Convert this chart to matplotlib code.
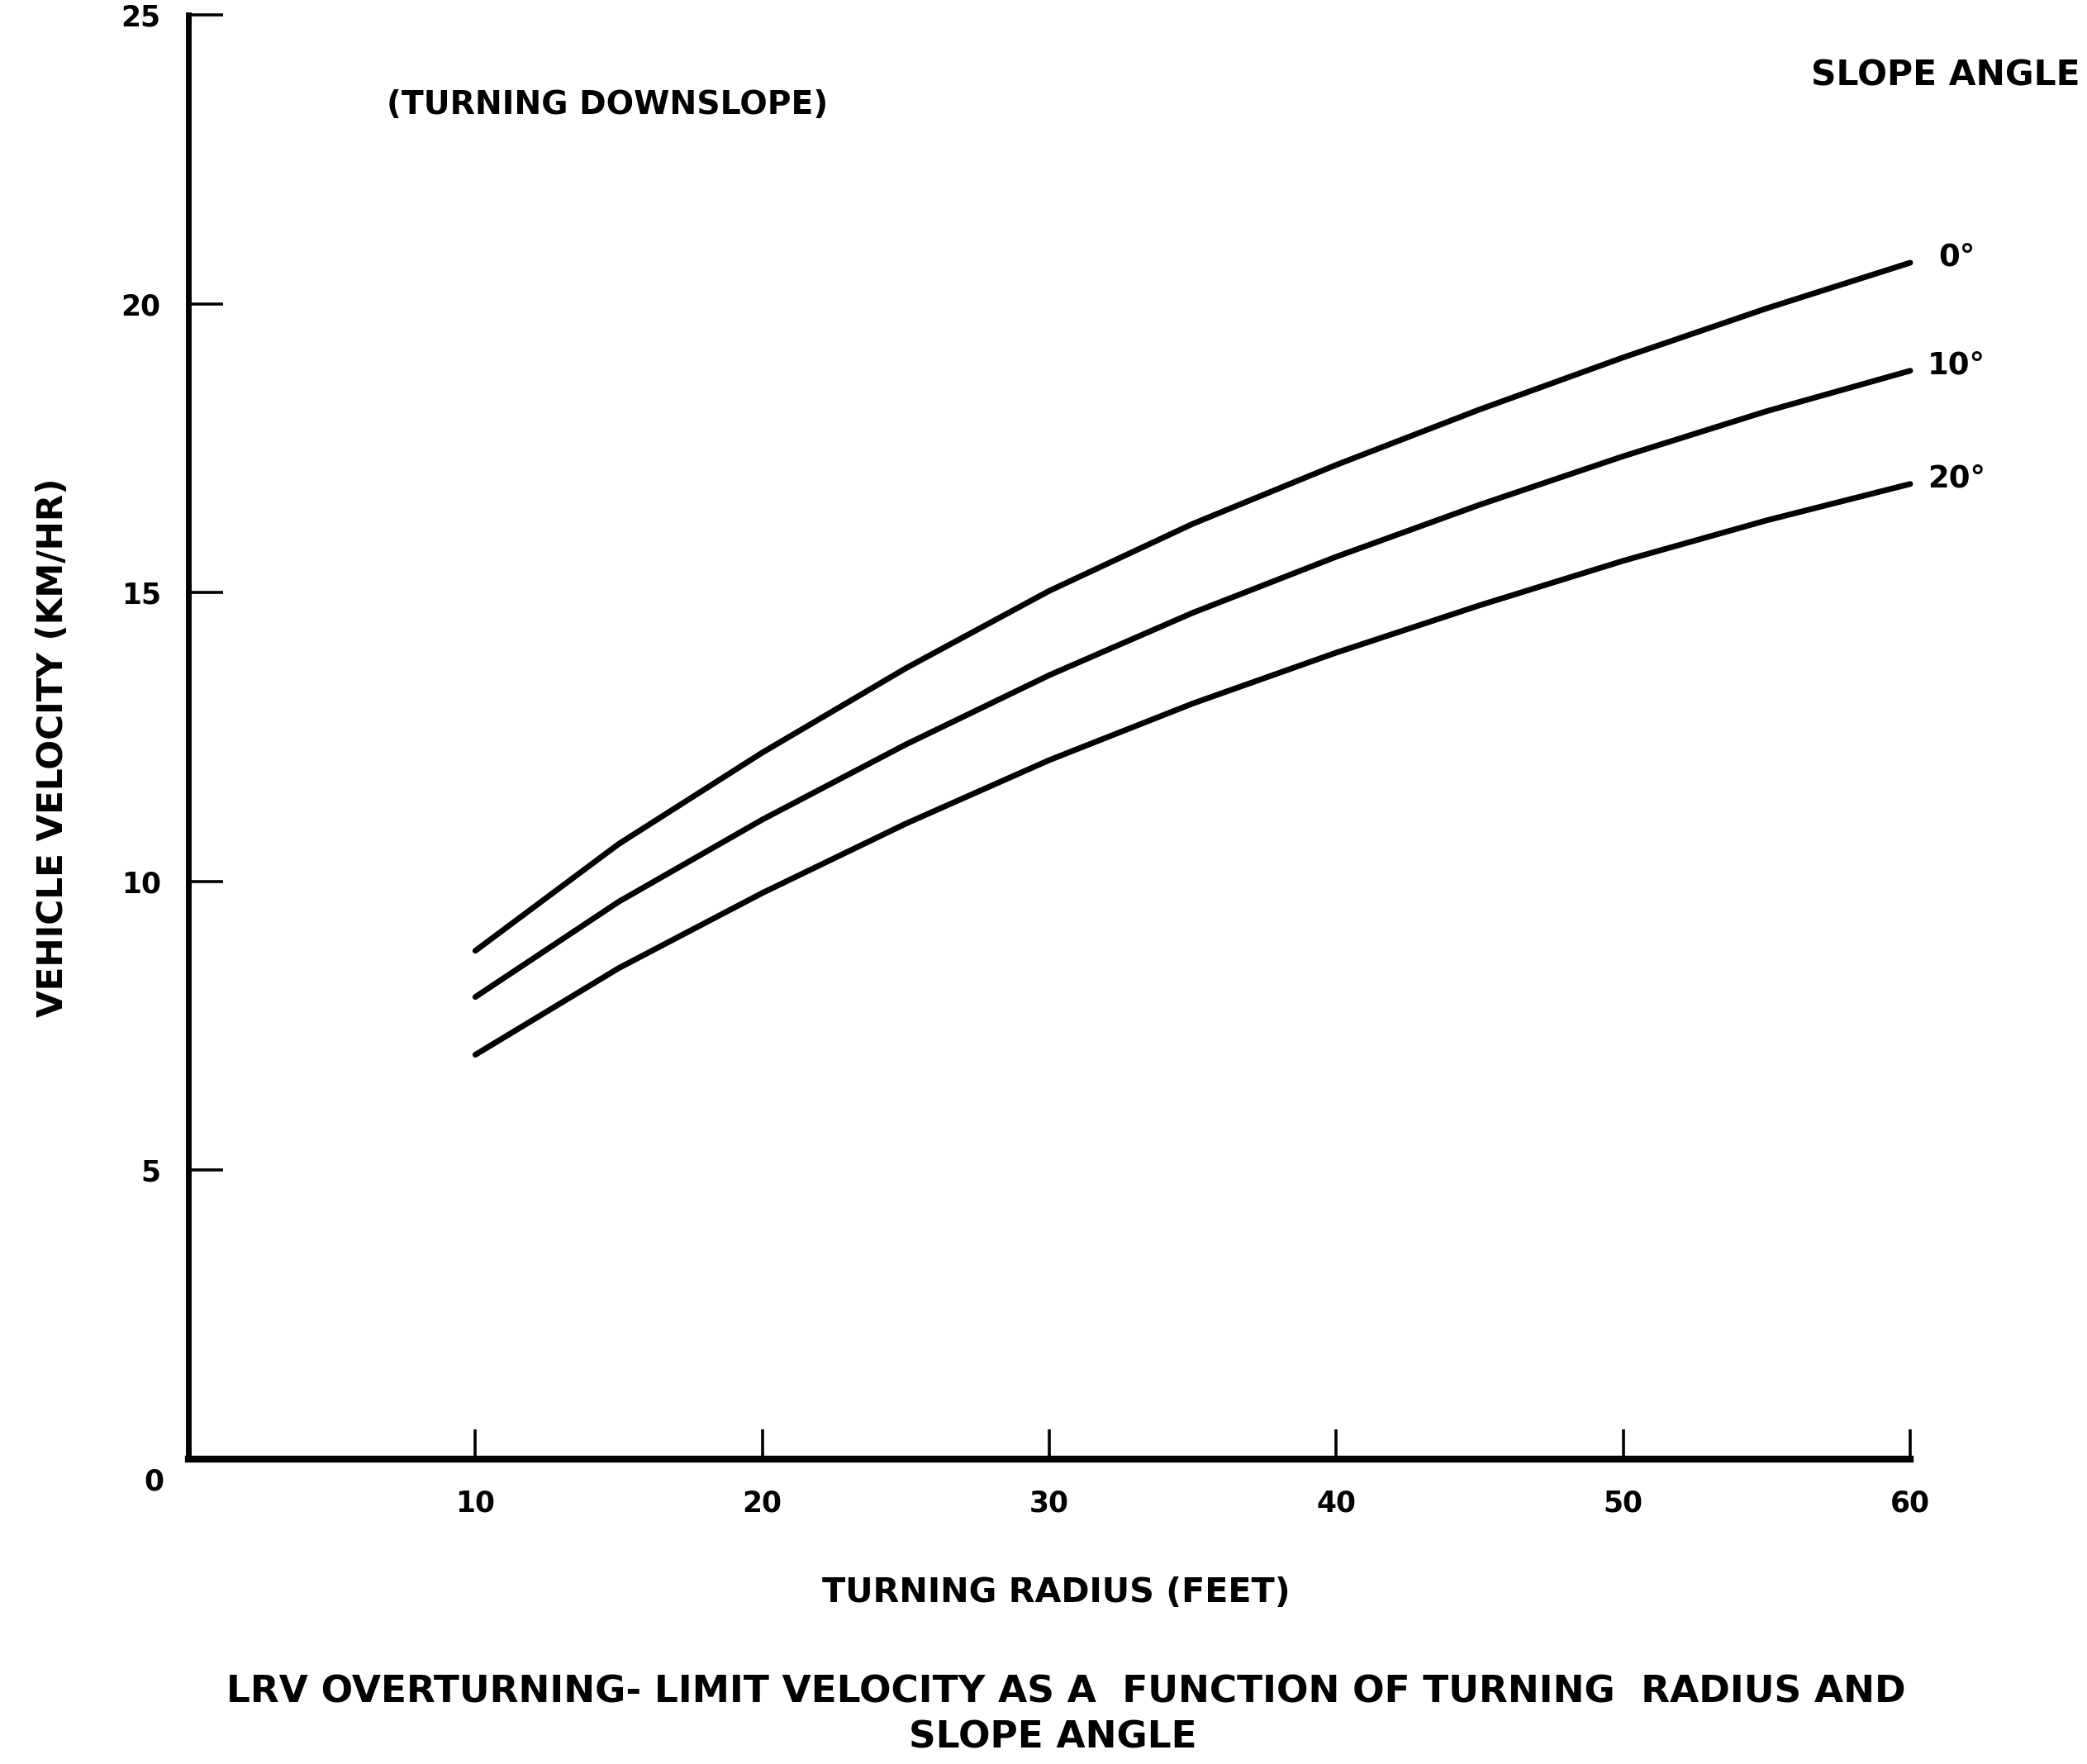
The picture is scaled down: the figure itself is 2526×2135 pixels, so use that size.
import matplotlib
matplotlib.use("Agg")
import matplotlib.pyplot as plt
from matplotlib import font_manager as fm

# ---------------- data ----------------
radius_ft = [10, 15, 20, 25, 30, 35, 40, 45, 50, 55, 60]
vel_slope_0 = [8.8, 10.65, 12.23, 13.69, 15.03, 16.19, 17.21, 18.17, 19.07, 19.92, 20.71]
vel_slope_10 = [8.0, 9.65, 11.07, 12.37, 13.57, 14.65, 15.62, 16.52, 17.36, 18.14, 18.84]
vel_slope_20 = [7.0, 8.5, 9.8, 11.0, 12.1, 13.08, 13.96, 14.78, 15.55, 16.25, 16.88]
slope_labels = ["0°", "10°", "20°"]
x_ticks = [10, 20, 30, 40, 50, 60]
y_ticks = [5, 10, 15, 20, 25]

x_label = "TURNING RADIUS (FEET)"
y_label = "VEHICLE VELOCITY (KM/HR)"
note = "(TURNING DOWNSLOPE)"
legend_title = "SLOPE ANGLE"
title_1 = "LRV OVERTURNING- LIMIT VELOCITY AS A  FUNCTION OF TURNING  RADIUS AND"
title_2 = "SLOPE ANGLE"


def pick_font():
    for fam in ["Liberation Sans Narrow", "DejaVu Sans"]:
        try:
            fm.findfont(fm.FontProperties(family=fam, weight="bold"),
                        fallback_to_default=False)
            return fam
        except Exception:
            pass
    return "DejaVu Sans"


FONT = pick_font()
plt.rcParams["font.family"] = [FONT, "DejaVu Sans"]
plt.rcParams["font.weight"] = "bold"

W, H = 2526, 2135
fig = plt.figure(figsize=(W / 100, H / 100), dpi=100)
renderer = fig.canvas.get_renderer()


def size_for(s, target_px, rotation=0):
    t = fig.text(0, 0, s, fontsize=20, fontweight="bold", rotation=rotation)
    bb = t.get_window_extent(renderer)
    t.remove()
    length = bb.height if rotation == 90 else bb.width
    return 20 * target_px / length


# axes placement (pixel geometry of the reference)
x0_px, x60_px = 228, 2312
y0_px, y25_px = 1766, 18
ax = fig.add_axes([x0_px / W, 1 - y0_px / H, (x60_px - x0_px) / W, (y0_px - y25_px) / H])
ax.set_xlim(0, 60)
ax.set_ylim(0, 25)

for sp in ["top", "right"]:
    ax.spines[sp].set_visible(False)
ax.spines["left"].set_linewidth(5.0)
ax.spines["bottom"].set_linewidth(6.0)
ax.spines["left"].set_capstyle("projecting")
ax.spines["bottom"].set_capstyle("projecting")

tick_fs = size_for("10", 48)
ax.set_xticks(x_ticks)
ax.set_yticks(y_ticks)
ax.set_xticklabels([str(v) for v in x_ticks])
ax.set_yticklabels([str(v) for v in y_ticks])
ax.tick_params(axis="x", direction="in", length=26, width=2.6, pad=26,
               labelsize=tick_fs)
ax.tick_params(axis="y", direction="in", length=30, width=2.6, pad=24,
               labelsize=tick_fs)
for lab in ax.get_xticklabels() + ax.get_yticklabels():
    lab.set_fontweight("bold")

ax.annotate("0", xy=(0, 0), xytext=(-30, -20), textcoords="offset points",
            ha="center", va="center", fontsize=tick_fs, fontweight="bold",
            annotation_clip=False)

# curves
series = [vel_slope_0, vel_slope_10, vel_slope_20]
label_offsets = [25, 15, 15]
deg_fs = size_for("10°", 70)
for vals, lab, off in zip(series, slope_labels, label_offsets):
    ax.plot(radius_ft, vals, color="black", lw=5.0, solid_capstyle="round",
            solid_joinstyle="round", clip_on=False)
    ax.annotate(lab, xy=(radius_ft[-1], vals[-1]), xytext=(off, 5),
                textcoords="offset points", ha="left", va="center",
                fontsize=deg_fs, fontweight="bold", annotation_clip=False)


# texts (figure pixel positions)
def ftext(s, cx, cy, width, rotation=0):
    fs = size_for(s, width, rotation)
    fig.text(cx / W, 1 - cy / H, s, ha="center", va="center", fontsize=fs,
             fontweight="bold", rotation=rotation)


ftext(note, 735, 127, 532)
ftext(legend_title, 2355, 92, 325)
ftext(y_label, 64, 905, 652, rotation=90)
ftext(x_label, 1278, 1928, 566)
ftext(title_1, 1290, 2048, 2031)
ftext(title_2, 1274, 2103, 348)

fig.savefig("out.png", dpi=100, facecolor="white")
